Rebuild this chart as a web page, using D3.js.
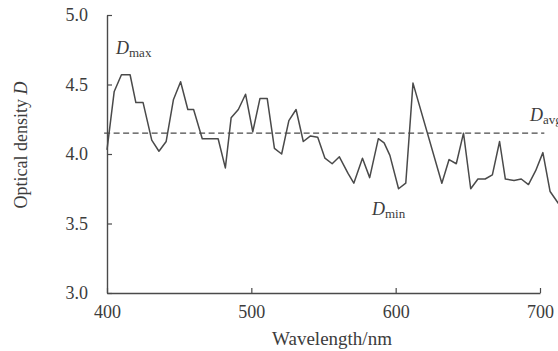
<!DOCTYPE html>
<html>
    <head>
        <meta charset="utf-8">
        <title>Optical density</title>
        <script src="https://d3js.org/d3.v7.min.js"></script>
        <style>
            body {
                margin: 0;
                background: #fff;
            }

            svg {
                display: block;
                font-family: "Liberation Serif", "Times New Roman", serif;
            }
        </style>
    </head>
    <body>
        <svg></svg>
        <script>
            // 读图得到的数据
            const wavelength = [400, 405, 410, 416, 420, 425, 431, 436, 441, 446, 451, 456, 460, 466, 471, 477, 482, 486, 491, 496,
                501, 506, 511, 516, 521, 526, 531, 536, 541, 546, 551, 556, 561, 567, 571, 577, 582, 588, 592, 596,
                602, 607, 612, 632, 637, 642, 647, 652, 657, 662, 667, 672, 676, 682, 687, 692, 697, 702, 707, 713, 718];
            const density = [4.03, 4.45, 4.57, 4.57, 4.37, 4.37, 4.10, 4.02, 4.09, 4.39, 4.52, 4.32, 4.32, 4.11, 4.11, 4.11, 3.90, 4.26, 4.32, 4.43,
                4.16, 4.40, 4.40, 4.04, 4.00, 4.24, 4.32, 4.09, 4.13, 4.12, 3.97, 3.93, 3.98, 3.86, 3.79, 3.97, 3.83, 4.11, 4.08, 3.99,
                3.75, 3.79, 4.51, 3.79, 3.96, 3.93, 4.15, 3.75, 3.82, 3.82, 3.85, 4.09, 3.82, 3.81, 3.82, 3.78, 3.88, 4.01, 3.73, 3.64, 3.60];
            const xTicks = [400, 500, 600, 700];
            const yTicks = [3.0, 3.5, 4.0, 4.5, 5.0];
            const avgValue = 4.15;
            const avgRange = [398, 703];

            const width = 558;
            const height = 351;
            const ink = '#4a4a4a';
            const textInk = '#3c3c3c';

            const svg = d3.select('svg').attr('width', width).attr('height', height);

            const x = d3.scaleLinear().domain([400, 700]).range([107, 540]);
            const y = d3.scaleLinear().domain([3, 5]).range([293, 15]);

            // 坐标轴
            const xAxis = svg.append('g').attr('transform', 'translate(0,' + y(3) + ')')
                .call(d3.axisBottom(x).tickValues(xTicks).tickFormat(d3.format('d')).tickSizeInner(-5).tickSizeOuter(0).tickPadding(12));
            const yAxis = svg.append('g').attr('transform', 'translate(' + x(400) + ',0)')
                .call(d3.axisLeft(y).tickValues(yTicks).tickFormat(d3.format('.1f')).tickSizeInner(-5).tickSizeOuter(0).tickPadding(19));

            [xAxis, yAxis].forEach(g=>{
                g.select('.domain').attr('stroke', ink).attr('stroke-width', 1.4);
                g.selectAll('.tick line').attr('stroke', ink).attr('stroke-width', 1.2);
                g.selectAll('.tick text').attr('fill', textInk).attr('font-size', 18).attr('font-family', '"Liberation Serif", serif');
            }
            );

            // 平均值虚线
            svg.append('line')
                .attr('x1', x(avgRange[0])).attr('x2', x(avgRange[1]))
                .attr('y1', y(avgValue)).attr('y2', y(avgValue))
                .attr('stroke', ink).attr('stroke-width', 1.3).attr('stroke-dasharray', '6,3.5');

            // 光密度曲线
            const points = wavelength.map((w,i)=>[w, density[i]]);
            const line = d3.line().x(d=>x(d[0])).y(d=>y(d[1]));

            svg.append('path').datum(points)
                .attr('d', line)
                .attr('fill', 'none')
                .attr('stroke', ink)
                .attr('stroke-width', 1.5)
                .attr('stroke-linejoin', 'round');

            // D 标注
            const marks = [
                {sub: 'max', x: 116, y: 54},
                {sub: 'min', x: 372, y: 215},
                {sub: 'avg', x: 530, y: 121}
            ];

            const label = svg.selectAll('.mark').data(marks).enter().append('text')
                .attr('class', 'mark')
                .attr('x', d=>d.x).attr('y', d=>d.y)
                .attr('fill', textInk);
            label.append('tspan').attr('font-style', 'italic').attr('font-size', 18).text('D');
            label.append('tspan').attr('font-size', 13).attr('dy', 3).text(d=>d.sub);

            // 轴标题
            svg.append('text')
                .attr('x', 332).attr('y', 345)
                .attr('text-anchor', 'middle')
                .attr('font-size', 19)
                .attr('fill', textInk)
                .text('Wavelength/nm');

            const yTitle = svg.append('text')
                .attr('transform', 'translate(27,145) rotate(-90)')
                .attr('text-anchor', 'middle')
                .attr('font-size', 18)
                .attr('fill', textInk);
            yTitle.append('tspan').text('Optical density ');
            yTitle.append('tspan').attr('font-style', 'italic').text('D');
        </script>
    </body>
</html>
